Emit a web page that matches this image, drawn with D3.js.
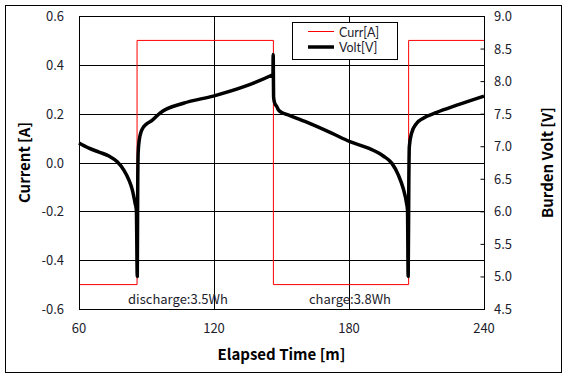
<!DOCTYPE html>
<html>
<head>
<meta charset="utf-8">
<script src="https://cdn.jsdelivr.net/npm/d3@7"></script>
<style>
  html, body { margin: 0; padding: 0; background: #fff; }
  svg { display: block; }
</style>
</head>
<body>
<svg id="chart" width="568" height="379"></svg>
<script>
// ---------------- data ----------------
const currTime = [60, 85.8, 85.8, 146.4, 146.4, 206.5, 206.5, 240];
const currValue = [-0.5, -0.5, 0.5, 0.5, -0.5, -0.5, 0.5, 0.5];

const voltTime = [60, 64.4, 68.9, 73.3, 77, 80, 82.2, 83.7, 84.9, 85.5, 85.9,
  86.1, 86.3, 86.8, 87.4, 88.4, 89.6, 92.6, 96, 106.4, 119.7, 133, 145.6, 146.2,
  146.3, 146.5, 147.0, 147.9, 148.6, 150, 153, 160.4, 172.3, 180.4, 188.6, 195.2,
  199, 201.9, 204.1, 205.6, 206.0, 206.3, 206.6, 206.8, 207.8, 210, 213, 219, 227.9, 240];
const voltValue = [7.05, 6.97, 6.91, 6.85, 6.76, 6.63, 6.48, 6.33, 6.13, 6.02, 5.0,
  6.4, 6.9, 7.1, 7.2, 7.28, 7.33, 7.40, 7.51, 7.66, 7.77, 7.91, 8.09, 8.10,
  8.41, 7.75, 7.66, 7.61, 7.56, 7.52, 7.48, 7.38, 7.20, 7.07, 6.97, 6.85,
  6.74, 6.56, 6.35, 6.12, 6.02, 5.0, 6.5, 6.99, 7.20, 7.35, 7.43, 7.52, 7.63, 7.77];

const xTicks = [60, 120, 180, 240];
const yLeftTicks = [-0.6, -0.4, -0.2, 0.0, 0.2, 0.4, 0.6];
const yRightTicks = [4.5, 5.0, 5.5, 6.0, 6.5, 7.0, 7.5, 8.0, 8.5, 9.0];
const xGrid = [120, 180];
const yGrid = [-0.4, -0.2, 0.0, 0.2, 0.4];

const annoText = ["discharge:3.5Wh", "charge:3.8Wh"];
const annoTime = [81.8, 162.2];
const annoCurr = [-0.58, -0.58];

const legendLabels = ["Curr[A]", "Volt[V]"];
const xTitle = "Elapsed Time [m]";
const yLeftTitle = "Current [A]";
const yRightTitle = "Burden Volt [V]";

// ---------------- layout ----------------
const W = 568, H = 379;
const L = 79, T = 16, R = 484, B = 309;
const font = "'Noto Sans CJK KR', 'Noto Sans', sans-serif";
const txtColor = "#1c1c2c";

const svg = d3.select("#chart");

const x = d3.scaleLinear().domain([60, 240]).range([L, R]);
const yL = d3.scaleLinear().domain([-0.6, 0.6]).range([B, T]);
const yR = d3.scaleLinear().domain([4.5, 9.0]).range([B, T]);

// outer border
svg.append("rect")
  .attr("x", 5.5).attr("y", 5.5)
  .attr("width", 556).attr("height", 367)
  .attr("fill", "#fff").attr("stroke", "#000").attr("stroke-width", 1);

// grid
const g = svg.append("g");
g.selectAll("line.hg").data(yGrid).enter().append("line")
  .attr("x1", L).attr("x2", R)
  .attr("y1", d => Math.round(yL(d)) + 0.5).attr("y2", d => Math.round(yL(d)) + 0.5)
  .attr("stroke", "#000").attr("stroke-width", 1);
g.selectAll("line.vg").data(xGrid).enter().append("line")
  .attr("y1", T).attr("y2", B)
  .attr("x1", d => Math.round(x(d)) + 0.5).attr("x2", d => Math.round(x(d)) + 0.5)
  .attr("stroke", "#000").attr("stroke-width", 1);

// right axis inward ticks
const rightAxis = d3.axisLeft(yR).tickValues(yRightTicks.slice(1, -1)).tickSize(4).tickFormat("");
svg.append("g").attr("transform", `translate(${R + 0.5},0)`).call(rightAxis)
  .call(s => s.select(".domain").remove())
  .call(s => s.selectAll("line").attr("stroke", "#000"));

// current series
const currData = currTime.map((t, i) => [t, currValue[i]]);
svg.append("path")
  .datum(currData)
  .attr("fill", "none").attr("stroke", "#ff0000").attr("stroke-width", 1)
  .attr("d", d3.line().x(d => x(d[0])).y(d => yL(d[1])));

// voltage series
const voltData = voltTime.map((t, i) => [t, voltValue[i]]);
svg.append("path")
  .datum(voltData)
  .attr("fill", "none").attr("stroke", "#000").attr("stroke-width", 3.5)
  .attr("stroke-linejoin", "round")
  .attr("d", d3.line().curve(d3.curveMonotoneX).x(d => x(d[0])).y(d => yR(d[1])));

// plot frame
svg.append("rect")
  .attr("x", L + 0.5).attr("y", T + 0.5)
  .attr("width", R - L).attr("height", B - T)
  .attr("fill", "none").attr("stroke", "#000").attr("stroke-width", 1);

// annotations
svg.selectAll("text.anno").data(annoText).enter().append("text")
  .attr("x", (d, i) => x(annoTime[i]))
  .attr("y", (d, i) => yL(annoCurr[i]))
  .attr("font-family", font).attr("font-size", 13).attr("fill", txtColor)
  .text(d => d);

// tick labels
svg.selectAll("text.xt").data(xTicks).enter().append("text")
  .attr("x", d => x(d)).attr("y", 333)
  .attr("text-anchor", "middle")
  .attr("font-family", font).attr("font-size", 13).attr("fill", txtColor)
  .text(d => d);
svg.selectAll("text.ylt").data(yLeftTicks).enter().append("text")
  .attr("x", 64).attr("y", d => yL(d) + 5)
  .attr("text-anchor", "end")
  .attr("font-family", font).attr("font-size", 13).attr("fill", txtColor)
  .text(d => d3.format(".1f")(d).replace("−", "-"));
svg.selectAll("text.yrt").data(yRightTicks).enter().append("text")
  .attr("x", 494).attr("y", d => yR(d) + 5)
  .attr("text-anchor", "start")
  .attr("font-family", font).attr("font-size", 13).attr("fill", txtColor)
  .text(d => d3.format(".1f")(d));

// axis titles
svg.append("text")
  .attr("x", (L + R) / 2).attr("y", 360)
  .attr("text-anchor", "middle")
  .attr("font-family", font).attr("font-size", 15).attr("font-weight", "bold").attr("fill", "#000")
  .text(xTitle);
svg.append("text")
  .attr("transform", `translate(30,${(T + B) / 2}) rotate(-90)`)
  .attr("text-anchor", "middle")
  .attr("font-family", font).attr("font-size", 15).attr("font-weight", "bold").attr("fill", "#000")
  .text(yLeftTitle);
svg.append("text")
  .attr("transform", `translate(553,${(T + B) / 2}) rotate(-90)`)
  .attr("text-anchor", "middle")
  .attr("font-family", font).attr("font-size", 15).attr("font-weight", "bold").attr("fill", "#000")
  .text(yRightTitle);

// legend
const lg = svg.append("g");
lg.append("rect")
  .attr("x", 292.5).attr("y", 22.5).attr("width", 105).attr("height", 37)
  .attr("fill", "#fff").attr("stroke", "#000").attr("stroke-width", 1);
const legColors = ["#ff0000", "#000"];
const legWidths = [1, 3.5];
legendLabels.forEach((lab, i) => {
  const yy = 31.5 + i * 15.5;
  lg.append("line").attr("x1", 308).attr("x2", 334).attr("y1", yy).attr("y2", yy)
    .attr("stroke", legColors[i]).attr("stroke-width", legWidths[i]);
  lg.append("text").attr("x", 339).attr("y", yy + 5)
    .attr("font-family", "Lato, 'Noto Sans', sans-serif").attr("font-size", 12.5).attr("fill", txtColor)
    .text(lab);
});
</script>
</body>
</html>
